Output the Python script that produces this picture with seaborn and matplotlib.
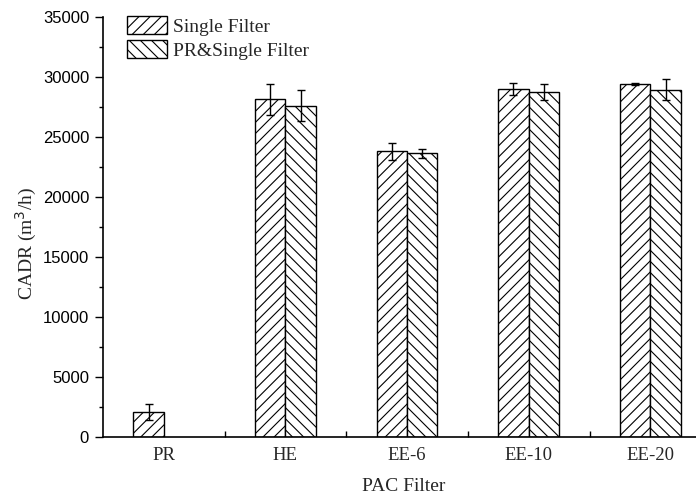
import matplotlib
matplotlib.use("Agg")
import matplotlib.pyplot as plt
import seaborn as sns
import numpy as np
import pandas as pd

categories = ["PR", "HE", "EE-6", "EE-10", "EE-20"]
single_vals = [2100, 28150, 23800, 29000, 29400]
single_err = [670, 1300, 700, 500, 80]
pr_single_vals = [np.nan, 27600, 23650, 28750, 28950]
pr_single_err = [np.nan, 1300, 380, 640, 900]
series = ["Single Filter", "PR&Single Filter"]

sns.set_theme(style="ticks")
serif = ["Liberation Serif", "DejaVu Serif"]
plt.rcParams["hatch.linewidth"] = 0.8
plt.rcParams["hatch.color"] = "black"

df = pd.DataFrame({
    "cat": categories * 2,
    "val": single_vals + pr_single_vals,
    "err": single_err + pr_single_err,
    "series": [series[0]] * 5 + [series[1]] * 5,
})

fig = plt.figure(figsize=(6.96, 5.0), dpi=100)
ax = fig.add_axes([0.148, 0.126, 0.865, 0.840])

sns.barplot(data=df, x="cat", y="val", hue="series", order=categories,
            hue_order=series, palette=["white", "white"], edgecolor="black",
            linewidth=1.0, width=0.5, errorbar=None, ax=ax, legend=True)

hatches = ["///", "\\\\\\"]
bar_conts = list(ax.containers)
for i, cont in enumerate(bar_conts):
    errs = single_err if i == 0 else pr_single_err
    vals = single_vals if i == 0 else pr_single_vals
    xs, ys, es = [], [], []
    for bar in cont:
        if bar is None:
            continue
        bar.set_hatch(hatches[i])
        bar.set_facecolor("white")
        bar.set_edgecolor("black")
        cx = bar.get_x() + bar.get_width() / 2
        idx = int(round(cx))
        if np.isnan(vals[idx]):
            continue
        xs.append(cx)
        ys.append(vals[idx])
        es.append(errs[idx])
    ax.errorbar(xs, ys, yerr=es, fmt="none", ecolor="black",
                elinewidth=1.0, capsize=3.2, capthick=1.0, zorder=5)

ax.set_ylim(0, 35000)
ax.set_xlim(-0.5, 4.45)
ax.set_yticks(np.arange(0, 35001, 5000))
ax.set_yticks(np.arange(2500, 35000, 5000), minor=True)
ax.tick_params(axis="y", which="major", direction="out", length=6, width=1,
               labelsize=12, colors="black", pad=4)
ax.tick_params(axis="y", which="minor", direction="out", length=3, width=1,
               colors="black")
for lab in ax.get_yticklabels():
    lab.set_family(["Liberation Sans", "DejaVu Sans"])

ax.set_xticks(range(len(categories)))
ax.set_xticklabels(categories, family=serif, fontsize=13.5)
ax.tick_params(axis="x", which="major", length=0, pad=7)
ax.set_xticks([0.5, 1.5, 2.5, 3.5], minor=True)
ax.tick_params(axis="x", which="minor", direction="in", length=4, width=1,
               colors="black")

for s in ["top", "right"]:
    ax.spines[s].set_visible(False)
for s in ["left", "bottom"]:
    ax.spines[s].set_linewidth(1.2)
    ax.spines[s].set_color("black")

ax.set_xlabel("PAC Filter", family=serif, fontsize=14, labelpad=10)
ax.set_ylabel("CADR (m$^3$/h)", family=serif, fontsize=14)
ax.yaxis.set_label_coords(-0.107, 0.46)

leg = ax.legend(loc="upper left", bbox_to_anchor=(0.027, 1.02), frameon=False,
                prop={"family": serif, "size": 14}, handlelength=2.05,
                handleheight=1.05, handletextpad=0.3, labelspacing=0.2,
                borderaxespad=0.0)
for p, h in zip(leg.get_patches(), hatches):
    p.set_hatch(h)
    p.set_facecolor("white")
    p.set_edgecolor("black")
    p.set_linewidth(1.0)

fig.savefig("out.png", dpi=100)
